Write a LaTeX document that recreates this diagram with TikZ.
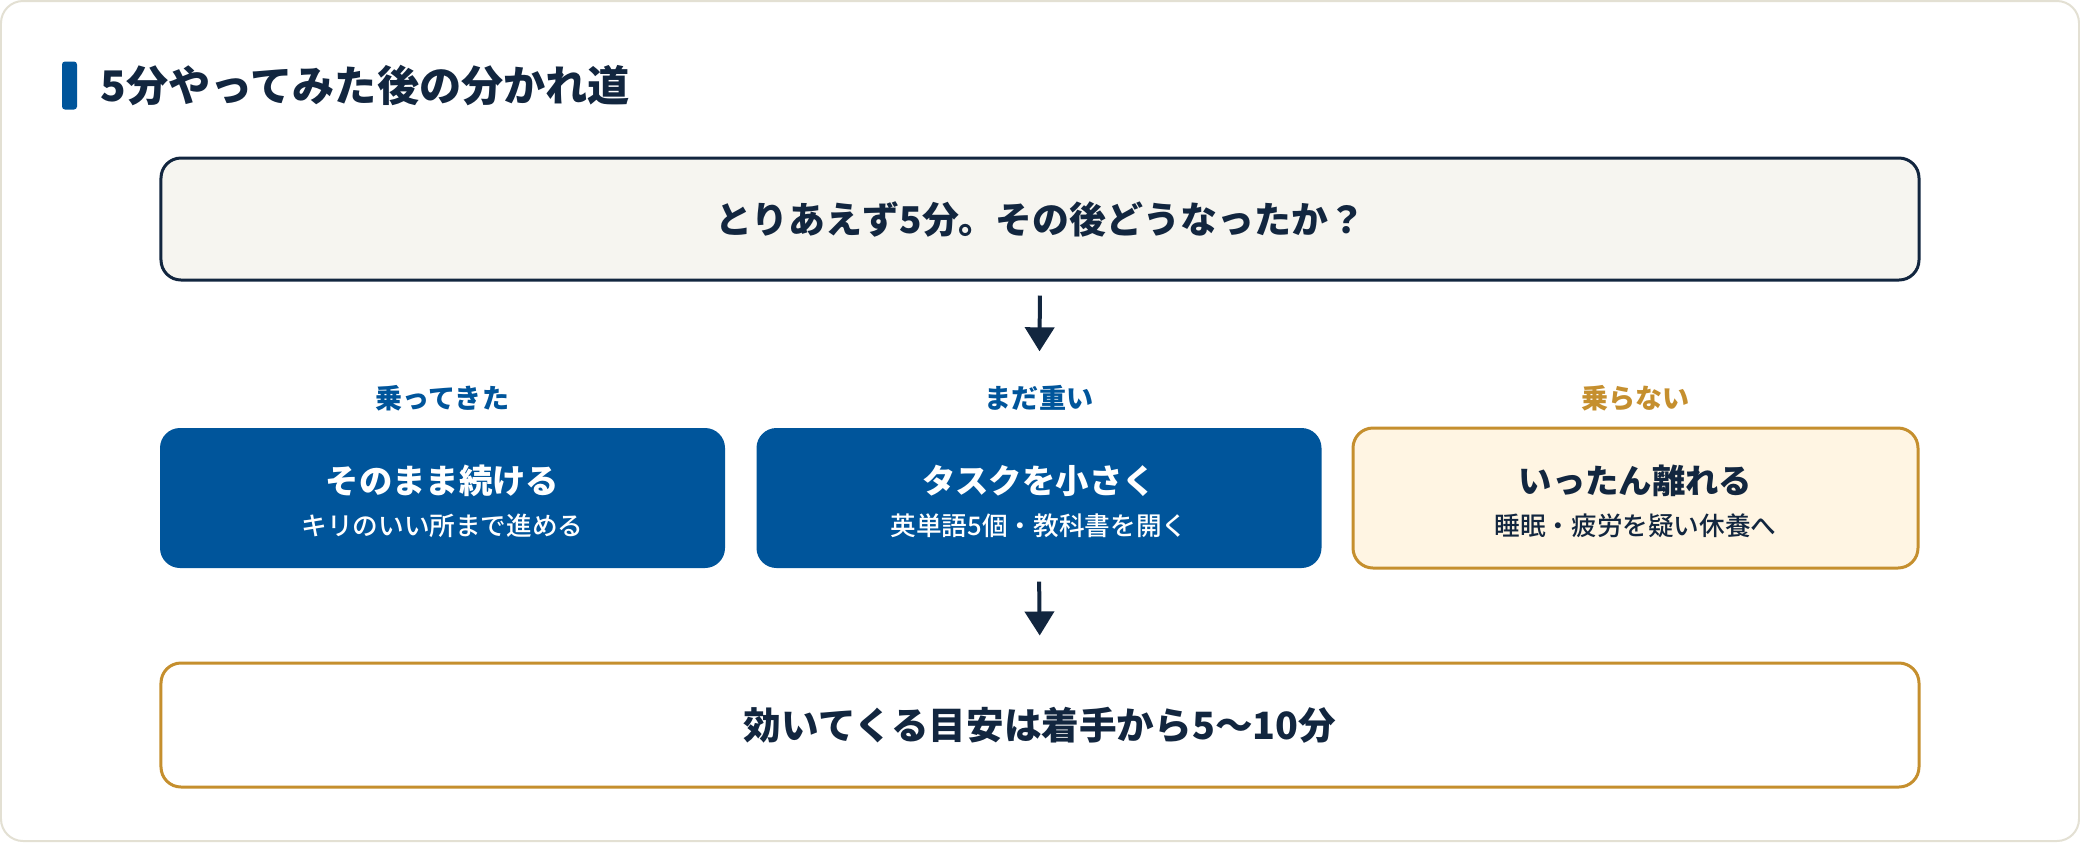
\documentclass[tikz,border=0pt]{standalone}
\usepackage{fontspec}
\setmainfont{Noto Sans CJK JP}
\newfontfamily\jpmedium{Noto Sans CJK JP Medium}
\usetikzlibrary{arrows.meta}

\definecolor{navy}{HTML}{12263F}
\definecolor{mainblue}{HTML}{00559B}
\definecolor{gold}{HTML}{C58F2E}
\definecolor{cream}{HTML}{FFF5E3}
\definecolor{paper}{HTML}{F6F5F0}
\definecolor{framegray}{HTML}{E3E0D3}

\begin{document}
\begin{tikzpicture}[
	box/.style={minimum height=1.40cm, minimum width=5.65cm, rounded corners=0.2cm, inner sep=0pt},
	wide/.style={minimum width=17.58cm, rounded corners=0.2cm, line width=0.03cm, inner sep=0pt},
	head/.style={font=\bfseries\fontsize{9.5pt}{11pt}\selectfont},
	sub/.style={font=\jpmedium\fontsize{7.3pt}{9pt}\selectfont},
	tag/.style={font=\bfseries\fontsize{7.7pt}{9pt}\selectfont},
	arrow/.style={draw=navy, line width=0.04cm, -{Triangle[width=0.29cm, length=0.24cm]}}
]

\useasboundingbox (0,0) rectangle (20.8,-8.42);
\fill[white] (0,0) rectangle (20.8,-8.42);
\draw[framegray, line width=0.02cm, rounded corners=0.22cm] (0.01,-0.01) rectangle (20.79,-8.41);

\node (bar) at (0.695,-0.855) [fill=mainblue, minimum width=0.15cm, minimum height=0.48cm, rounded corners=0.03cm, inner sep=0pt] {};
\node (title) at (0.88,-0.86) [anchor=west, text=navy, font=\bfseries\fontsize{12pt}{14pt}\selectfont] {5分やってみた後の分かれ道};

\node (q) at (10.40,-2.19) [wide, minimum height=1.22cm, draw=navy, fill=paper] {};
\node (qtext) at (10.40,-2.19) [text=navy, font=\bfseries\fontsize{10.5pt}{12pt}\selectfont] {とりあえず5分。その後どうなったか？};

\node (lleft)  at (4.425,-3.98) [tag, text=mainblue] {乗ってきた};
\node (lmid)   at (10.39,-3.98) [tag, text=mainblue] {まだ重い};
\node (lright) at (16.355,-3.98) [tag, text=gold] {乗らない};

\node (left)  at (4.425,-4.98) [box, fill=mainblue] {};
\node (mid)   at (10.39,-4.98) [box, fill=mainblue] {};
\node (right) at (16.355,-4.98) [box, draw=gold, fill=cream, line width=0.03cm] {};

\node (h1) at (4.425,-4.81) [head, text=white] {そのまま続ける};
\node (h2) at (10.39,-4.81) [head, text=white] {タスクを小さく};
\node (h3) at (16.355,-4.81) [head, text=navy] {いったん離れる};

\node (s1) at (4.425,-5.26) [sub, text=white] {キリのいい所まで進める};
\node (s2) at (10.39,-5.26) [sub, text=white] {英単語5個・教科書を開く};
\node (s3) at (16.355,-5.26) [sub, text=navy] {睡眠・疲労を疑い休養へ};

\node (goal) at (10.40,-7.25) [wide, minimum height=1.24cm, draw=gold, fill=white] {};
\node (gtext) at (10.40,-7.25) [text=navy, font=\bfseries\fontsize{10.7pt}{12pt}\selectfont] {効いてくる目安は着手から5〜10分};

\path (q.south) edge [arrow, shorten <=0.14cm, shorten >=0.76cm] (mid.north);
\path (mid.south) edge [arrow, shorten <=0.13cm, shorten >=0.26cm] (goal.north);

\end{tikzpicture}
\end{document}
